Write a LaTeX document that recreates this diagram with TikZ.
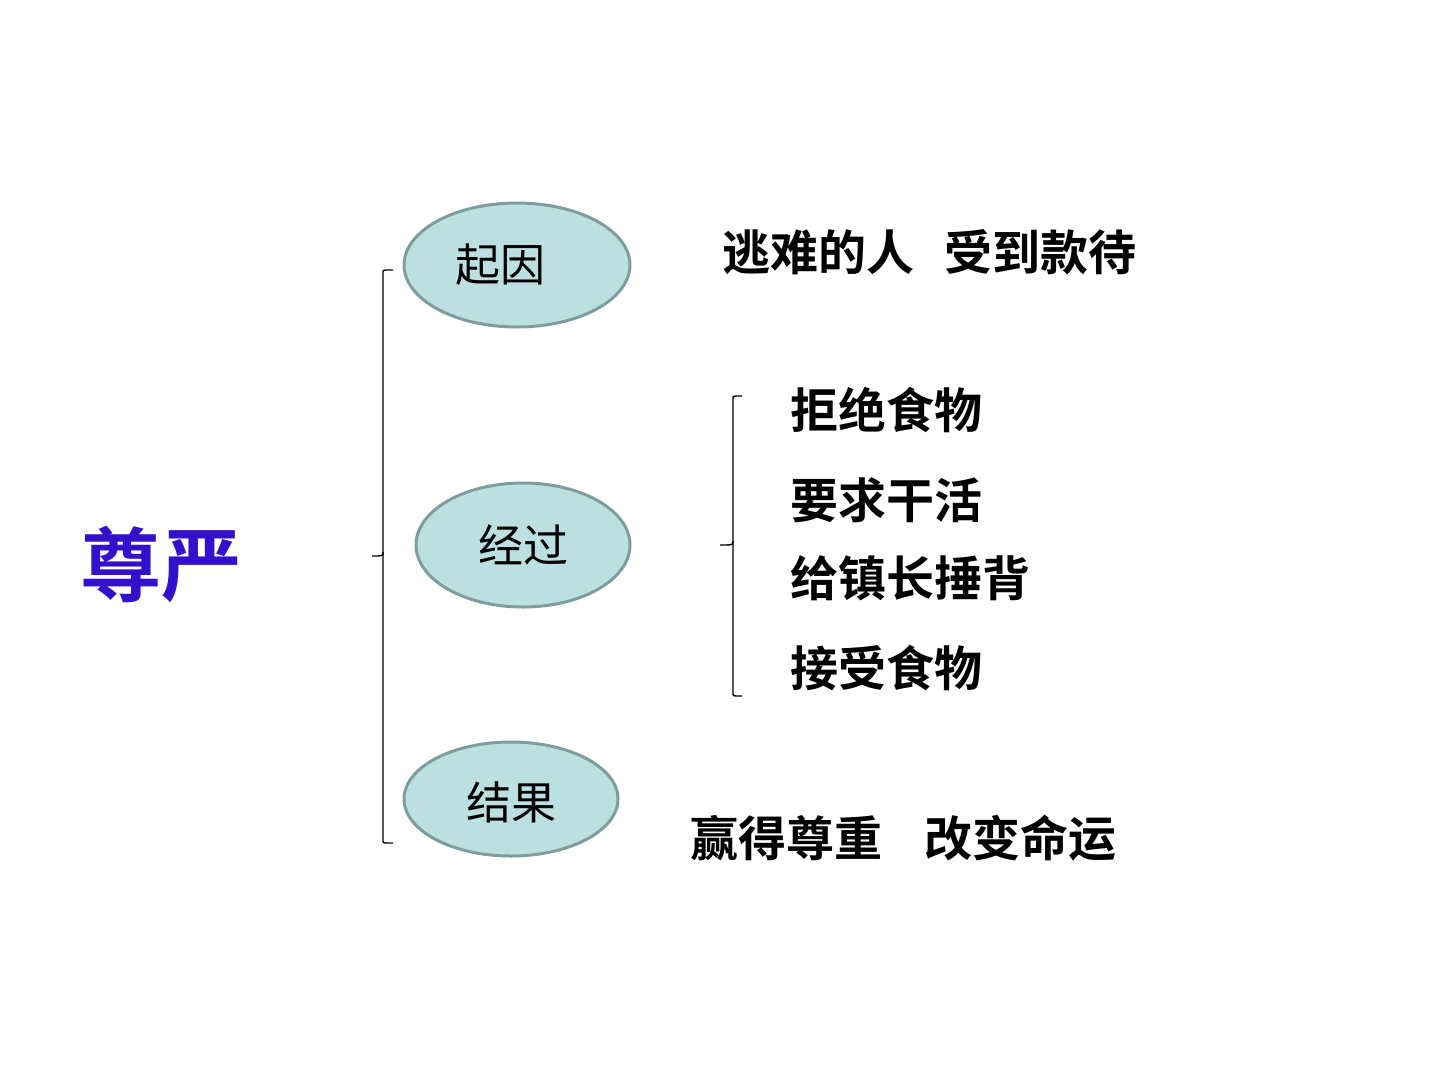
\documentclass[tikz,border=0pt]{standalone}
\usepackage{fontspec}
\newfontfamily\cjk{Noto Sans CJK SC}
\newfontfamily\cjkb{Noto Sans CJK SC Bold}
\usetikzlibrary{shapes.geometric}
\definecolor{ellfill}{HTML}{BCE0E2}
\definecolor{elldraw}{HTML}{7F9C9E}
\definecolor{titleblue}{HTML}{3311CC}
\tikzset{
  ell/.style={ellipse, fill=ellfill, draw=elldraw, line width=3pt, inner sep=0pt},
  elltext/.style={font=\cjk\fontsize{45}{50}\selectfont, text=black},
  item/.style={font=\cjkb\fontsize{48}{52}\selectfont, anchor=west, inner sep=0pt},
  brace/.style={draw=black, line width=1.4pt},
}
\begin{document}
\begin{tikzpicture}[x=1pt,y=-1pt]
\useasboundingbox (0,0) rectangle (1440,1080);
\fill[white] (0,0) rectangle (1440,1080);
% title
\node[font=\cjkb\fontsize{81}{86}\selectfont, text=titleblue, inner sep=0pt] (title) at (161,565) {尊严};
% left brace
\draw[brace] (393,270) -- (386,270) .. controls (383,270) .. (383,274) -- (383,552) .. controls (383,556) .. (372,556);
\draw[brace] (383,552) -- (383,839) .. controls (383,843) .. (386,843) -- (393,843);
% ellipses
\node[ell, minimum width=226pt, minimum height=124pt] (e1) at (517,265) {};
\node[elltext] (t1) at (500,265) {起因};
\node[ell, minimum width=214pt, minimum height=124pt] (e2) at (523,545) {};
\node[elltext] (t2) at (523,545) {经过};
\node[ell, minimum width=214pt, minimum height=114pt] (e3) at (511,799) {};
\node[elltext] (t3) at (511,802) {结果};
% right brace
\draw[brace] (742,396) -- (736,396) .. controls (733,396) .. (733,400) -- (733,541) .. controls (733,545) .. (720,545);
\draw[brace] (733,541) -- (733,692) .. controls (733,696) .. (736,696) -- (742,696);
% texts
\node[item] (c1) at (722,252) {逃难的人\hspace{30pt}受到款待};
\node[item] (p1) at (790,410) {拒绝食物};
\node[item] (p2) at (790,500) {要求干活};
\node[item] (p3) at (790,578) {给镇长捶背};
\node[item] (p4) at (790,668) {接受食物};
\node[item] (r1) at (690,838) {赢得尊重\hspace{42pt}改变命运};
\end{tikzpicture}
\end{document}
